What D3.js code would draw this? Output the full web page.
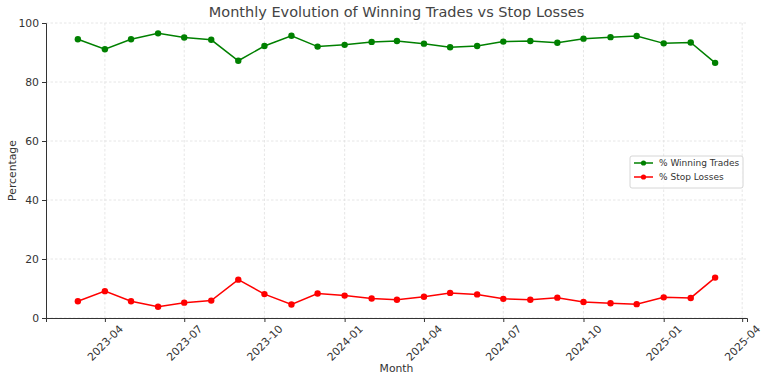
<!DOCTYPE html>
<html>
<head>
<meta charset="utf-8">
<script src="https://cdn.jsdelivr.net/npm/d3@7"></script>
<style>
  body { margin: 0; background: #fff; }
  text { font-family: "DejaVu Sans", sans-serif; fill: #333; }
</style>
</head>
<body>
<div id="chart"></div>
<script>
// monthly data, first day of each month
const months = [
  "2023-03", "2023-04", "2023-05", "2023-06", "2023-07", "2023-08", "2023-09",
  "2023-10", "2023-11", "2023-12", "2024-01", "2024-02", "2024-03", "2024-04",
  "2024-05", "2024-06", "2024-07", "2024-08", "2024-09", "2024-10", "2024-11",
  "2024-12", "2025-01", "2025-02", "2025-03"
];
const winning = [
  94.5, 91.1, 94.5, 96.5, 95.1, 94.3, 87.2, 92.2, 95.7, 92.0, 92.6, 93.6, 93.9,
  93.0, 91.8, 92.2, 93.7, 93.9, 93.3, 94.7, 95.2, 95.6, 93.1, 93.4, 86.5
];
const stops = [
  5.7, 9.1, 5.7, 3.8, 5.2, 5.9, 13.0, 8.1, 4.6, 8.3, 7.6, 6.6, 6.2,
  7.2, 8.5, 8.0, 6.5, 6.2, 6.9, 5.4, 5.0, 4.7, 7.0, 6.8, 13.7
];
const yTicks = [0, 20, 40, 60, 80, 100];
const xTickLabels = ["2023-04", "2023-07", "2023-10", "2024-01", "2024-04",
                     "2024-07", "2024-10", "2025-01", "2025-04"];

const width = 768, height = 381;
const margin = { top: 23, right: 21, bottom: 63, left: 46 };
const w = width - margin.left - margin.right;
const h = height - margin.top - margin.bottom;

const parse = d3.timeParse("%Y-%m");
const dates = months.map(parse);

// matplotlib style 5% padding on x
const x0 = dates[0], x1 = dates[dates.length - 1];
const pad = (x1 - x0) * 0.05;
const x = d3.scaleTime()
    .domain([new Date(+x0 - pad), new Date(+x1 + pad)])
    .range([0, w]);
const y = d3.scaleLinear().domain([0, 100]).range([h, 0]);

const svg = d3.select("#chart").append("svg")
    .attr("width", width)
    .attr("height", height);

const g = svg.append("g")
    .attr("transform", `translate(${margin.left}, ${margin.top})`);

const xTicks = xTickLabels.map(parse);

// grid
g.append("g").selectAll("line")
    .data(xTicks)
    .enter().append("line")
    .attr("x1", d => x(d)).attr("x2", d => x(d))
    .attr("y1", 0).attr("y2", h)
    .style("stroke", "#e0e0e0")
    .style("stroke-width", 0.8)
    .style("stroke-dasharray", "2.5,2");
g.append("g").selectAll("line")
    .data(yTicks)
    .enter().append("line")
    .attr("x1", 0).attr("x2", w)
    .attr("y1", d => y(d)).attr("y2", d => y(d))
    .style("stroke", "#e0e0e0")
    .style("stroke-width", 0.8)
    .style("stroke-dasharray", "2.5,2");

// axes
const xAxis = g.append("g")
    .attr("transform", `translate(0, ${h})`)
    .call(d3.axisBottom(x).tickValues(xTicks).tickFormat(d3.timeFormat("%Y-%m")).tickSize(4).tickPadding(3));
xAxis.select(".domain").style("stroke", "#333").style("stroke-width", 1);
xAxis.selectAll(".tick line").style("stroke", "#333");
xAxis.selectAll(".tick text")
    .style("font-size", "10.8px")
    .attr("text-anchor", "middle")
    .attr("dy", null)
    .attr("dominant-baseline", "central")
    .attr("y", 25)
    .attr("transform", "rotate(-45, 0, 25)");

const yAxis = g.append("g")
    .call(d3.axisLeft(y).tickValues(yTicks).tickSize(4).tickPadding(3));
yAxis.select(".domain").style("stroke", "#333").style("stroke-width", 1);
yAxis.selectAll(".tick line").style("stroke", "#333");
yAxis.selectAll(".tick text").style("font-size", "10.8px");

// series
const series = [
  { name: "% Winning Trades", values: winning, color: "green" },
  { name: "% Stop Losses", values: stops, color: "red" }
];

const line = d3.line()
    .x((d, i) => x(dates[i]))
    .y(d => y(d));

series.forEach(s => {
  g.append("path")
    .datum(s.values)
    .attr("d", line)
    .style("fill", "none")
    .style("stroke", s.color)
    .style("stroke-width", 1.5);
  g.append("g").selectAll("circle")
    .data(s.values)
    .enter().append("circle")
    .attr("cx", (d, i) => x(dates[i]))
    .attr("cy", d => y(d))
    .attr("r", 3.2)
    .style("fill", s.color);
});

// title and labels
svg.append("text")
    .attr("x", margin.left + w / 2)
    .attr("y", 17)
    .attr("text-anchor", "middle")
    .style("font-size", "14.5px")
    .style("fill", "#444")
    .text("Monthly Evolution of Winning Trades vs Stop Losses");

svg.append("text")
    .attr("x", margin.left + w / 2)
    .attr("y", 372)
    .attr("text-anchor", "middle")
    .style("font-size", "10.8px")
    .text("Month");

svg.append("text")
    .attr("transform", `translate(16, ${margin.top + h / 2}) rotate(-90)`)
    .attr("text-anchor", "middle")
    .style("font-size", "10.8px")
    .text("Percentage");

// legend
const lg = svg.append("g").attr("transform", "translate(630, 156)");
lg.append("rect")
    .attr("width", 113).attr("height", 32)
    .attr("rx", 2)
    .style("fill", "#fff")
    .style("fill-opacity", 0.8)
    .style("stroke", "#ccc")
    .style("stroke-width", 0.8);
series.forEach((s, i) => {
  const row = lg.append("g").attr("transform", `translate(0, ${7 + i * 14})`);
  row.append("line")
    .attr("x1", 4).attr("x2", 23)
    .style("stroke", s.color).style("stroke-width", 1.5);
  row.append("circle")
    .attr("cx", 13.5).attr("r", 2.6).style("fill", s.color);
  row.append("text")
    .attr("x", 29).attr("dy", "0.35em")
    .style("font-size", "9px")
    .text(s.name);
});
</script>
</body>
</html>
